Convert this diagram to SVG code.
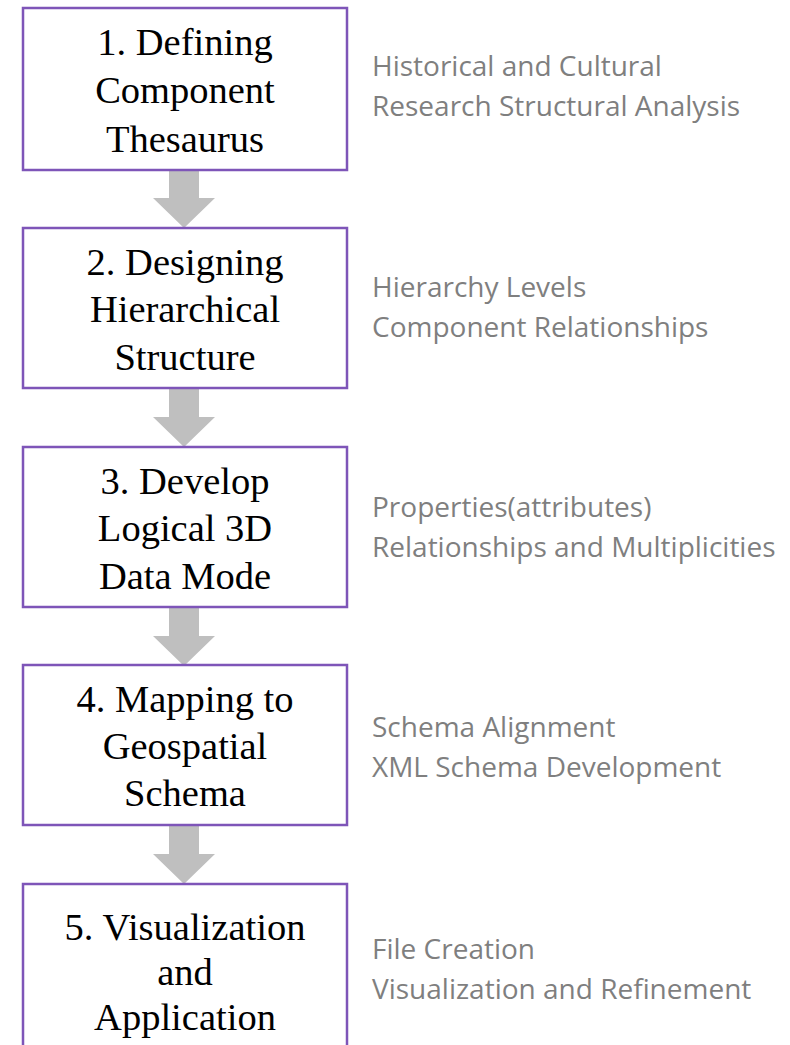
<svg xmlns="http://www.w3.org/2000/svg" width="790" height="1045" viewBox="0 0 790 1045">
<defs>
<style>
.box{fill:#ffffff;stroke:#7e55b8;stroke-width:2.5}
.bt{font-family:"Liberation Serif","Times New Roman",serif;font-size:38.5px;fill:#000;text-anchor:middle}
.st{font-family:"Open Sans","Liberation Sans",sans-serif;font-size:28px;fill:#7f7f7f}
.arr{fill:#bfbfbf}
</style>
</defs>
<rect width="790" height="1045" fill="#ffffff"/>
<g id="connectors">
<polygon class="arr" points="169,170 199,170 199,198 215,198 184,228 153,198 169,198"/>
<polygon class="arr" points="169,389 199,389 199,417 215,417 184,447 153,417 169,417"/>
<polygon class="arr" points="169,608 199,608 199,636 215,636 184,666 153,636 169,636"/>
<polygon class="arr" points="169,826 199,826 199,854 215,854 184,884 153,854 169,854"/>
</g>
<g id="node1">
<rect class="box" x="23" y="8" width="324" height="162"/>
<text class="bt" x="185" y="55">1. Defining</text>
<text class="bt" x="185" y="103">Component</text>
<text class="bt" x="185" y="152">Thesaurus</text>
</g>
<g id="node2">
<rect class="box" x="23" y="228" width="324" height="160"/>
<text class="bt" x="185" y="275">2. Designing</text>
<text class="bt" x="185" y="322">Hierarchical</text>
<text class="bt" x="185" y="370">Structure</text>
</g>
<g id="node3">
<rect class="box" x="23" y="447" width="324" height="160"/>
<text class="bt" x="185" y="494">3. Develop</text>
<text class="bt" x="185" y="541">Logical 3D</text>
<text class="bt" x="185" y="589">Data Mode</text>
</g>
<g id="node4">
<rect class="box" x="23" y="665" width="324" height="160"/>
<text class="bt" x="185" y="712">4. Mapping to</text>
<text class="bt" x="185" y="759">Geospatial</text>
<text class="bt" x="185" y="806">Schema</text>
</g>
<g id="node5">
<rect class="box" x="23" y="884" width="324" height="175"/>
<text class="bt" x="185" y="940">5. Visualization</text>
<text class="bt" x="185" y="985">and</text>
<text class="bt" x="185" y="1030">Application</text>
</g>
<g id="notes">
<text class="st" x="372" y="76">Historical and Cultural</text>
<text class="st" x="372" y="116">Research Structural Analysis</text>
<text class="st" x="372" y="297">Hierarchy Levels</text>
<text class="st" x="372" y="337">Component Relationships</text>
<text class="st" x="372" y="517">Properties(attributes)</text>
<text class="st" x="372" y="557">Relationships and Multiplicities</text>
<text class="st" x="372" y="737">Schema Alignment</text>
<text class="st" x="372" y="777">XML Schema Development</text>
<text class="st" x="372" y="959">File Creation</text>
<text class="st" x="372" y="999">Visualization and Refinement</text>
</g>
</svg>
